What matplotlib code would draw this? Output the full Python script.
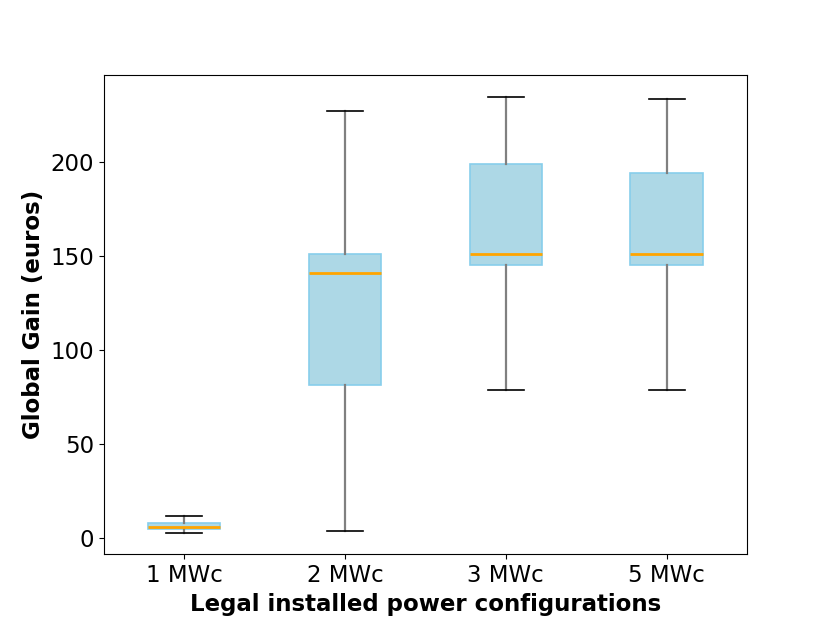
import matplotlib
matplotlib.use("Agg")
import matplotlib.pyplot as plt

configs = ["1 MWc", "2 MWc", "3 MWc", "5 MWc"]
whisker_low = [3.0, 4.0, 79.0, 79.0]
q1 = [4.8, 81.5, 145.3, 145.3]
medians = [6.0, 141.0, 151.0, 151.0]
q3 = [8.2, 151.2, 199.0, 194.5]
whisker_high = [12.0, 227.0, 234.5, 233.5]

stats = []
for i, name in enumerate(configs):
    stats.append({
        "label": name,
        "whislo": whisker_low[i],
        "q1": q1[i],
        "med": medians[i],
        "q3": q3[i],
        "whishi": whisker_high[i],
        "fliers": [],
    })

fig, ax = plt.subplots(figsize=(8.3, 6.23), dpi=100)
ax.bxp(stats, widths=0.45, patch_artist=True, showfliers=False,
       boxprops=dict(facecolor="lightblue", edgecolor="skyblue", linewidth=1.2),
       medianprops=dict(color="orange", linewidth=2),
       whiskerprops=dict(color="gray", linewidth=1.6),
       capprops=dict(color="black", linewidth=1.2))

ax.set_ylim(-8.5, 246.5)
ax.set_xlabel("Legal installed power configurations", fontsize=16.5, fontweight="bold")
ax.set_ylabel("Global Gain (euros)", fontsize=16.5, fontweight="bold")
ax.tick_params(axis="both", labelsize=16.5)

plt.savefig("out.png")
